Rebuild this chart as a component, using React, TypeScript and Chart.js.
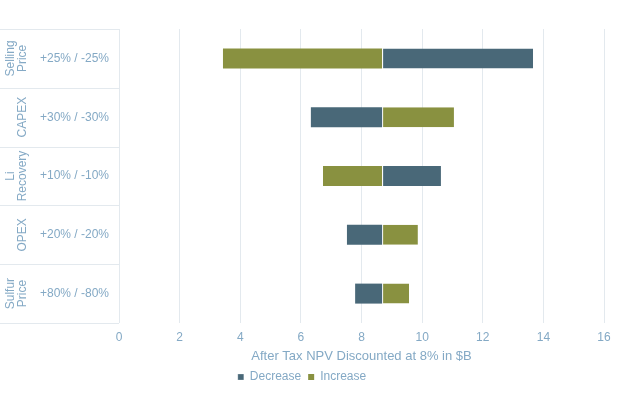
import React, { useEffect, useRef } from "react";
import { Chart, registerables } from "chart.js";

Chart.register(...registerables);

const outerLabels: string[][] = [["Selling", "Price"], ["CAPEX"], ["Li", "Recovery"], ["OPEX"], ["Sulfur", "Price"]];
const innerLabels: string[] = ["+25% / -25%", "+30% / -30%", "+10% / -10%", "+20% / -20%", "+80% / -80%"];
const baseValue = 8.68;
const decreaseEnds: number[] = [13.66, 6.33, 10.62, 7.52, 7.79];
const increaseEnds: number[] = [3.43, 11.05, 6.73, 9.86, 9.57];
const xTicks: number[] = [0, 2, 4, 6, 8, 10, 12, 14, 16];

const TEXT = "#84a9c5";
const GRID = "#e3e9ee";
const FONT = "'Liberation Sans', Arial, sans-serif";

const tablePlugin = {
  id: "labelTable",
  afterDraw(chart: any) {
    const ctx = chart.ctx;
    const y = chart.scales.y;
    const area = chart.chartArea;
    const n = innerLabels.length;
    const step = (y.getPixelForValue(1) - y.getPixelForValue(0));
    ctx.save();
    ctx.strokeStyle = GRID;
    ctx.lineWidth = 1;
    for (let i = 0; i <= n; i++) {
      const py = Math.round(y.getPixelForValue(i) - step / 2) + 0.5;
      ctx.beginPath();
      ctx.moveTo(0, py);
      ctx.lineTo(area.left, py);
      ctx.stroke();
    }
    ctx.fillStyle = TEXT;
    ctx.font = `12px ${FONT}`;
    ctx.textAlign = "center";
    ctx.textBaseline = "middle";
    const lineH = 12;
    const lastX = 23;
    outerLabels.forEach((lines, i) => {
      const cy = y.getPixelForValue(i);
      lines.forEach((line, j) => {
        const px = lastX - (lines.length - 1 - j) * lineH;
        ctx.save();
        ctx.translate(px, cy);
        ctx.rotate(-Math.PI / 2);
        ctx.fillText(line, 0, 0);
        ctx.restore();
      });
    });
    ctx.restore();
  },
};

export default function App() {
  const ref = useRef<HTMLCanvasElement | null>(null);
  useEffect(() => {
    if (!ref.current) return;
    const mk = (ends: number[]) => ends.map((e) => [baseValue, e]);
    const bw = (c: any) => {
      const v = c.raw as number[];
      if (!v) return 0;
      return v[1] > v[0] ? { left: 1, right: 0, top: 0, bottom: 0 } : 0;
    };
    const chart = new Chart(ref.current, {
      type: "bar",
      data: {
        labels: innerLabels,
        datasets: [
          {
            label: "Decrease",
            data: mk(decreaseEnds) as any,
            backgroundColor: "#496878",
            borderColor: "#ffffff",
            borderWidth: bw as any,
            borderSkipped: false,
            grouped: false,
            categoryPercentage: 1,
            barPercentage: 0.34,
          },
          {
            label: "Increase",
            data: mk(increaseEnds) as any,
            backgroundColor: "#899140",
            borderColor: "#ffffff",
            borderWidth: bw as any,
            borderSkipped: false,
            grouped: false,
            categoryPercentage: 1,
            barPercentage: 0.34,
          },
        ],
      },
      options: {
        indexAxis: "y",
        animation: false,
        responsive: false,
        maintainAspectRatio: false,
        layout: { padding: { top: 29, right: 20, left: 0, bottom: 2 } },
        scales: {
          x: {
            type: "linear",
            min: 0,
            max: 16,
            afterBuildTicks: (s: any) => {
              s.ticks = xTicks.map((v) => ({ value: v }));
            },
            grid: { color: GRID, drawTicks: false },
            border: { display: false },
            ticks: { color: TEXT, font: { size: 12, family: FONT }, padding: 7 },
            title: {
              display: true,
              text: "After Tax NPV Discounted at 8% in $B",
              color: TEXT,
              font: { size: 13, family: FONT },
              padding: { top: -3, bottom: 0 },
            },
          },
          y: {
            type: "category",
            offset: true,
            grid: { display: false, drawTicks: false },
            border: { display: false },
            ticks: { color: TEXT, font: { size: 12, family: FONT }, padding: 10 },
            afterFit: (s: any) => {
              s.width = 119;
            },
          },
        },
        plugins: {
          legend: {
            position: "bottom",
            labels: {
              color: TEXT,
              font: { size: 12, family: FONT },
              boxWidth: 6,
              boxHeight: 6,
              padding: 7,
            },
          },
          tooltip: { enabled: false },
        },
      },
      plugins: [tablePlugin],
    });
    return () => chart.destroy();
  }, []);
  return (
    <div style={{ position: "fixed", left: 0, top: 0, width: 624, height: 395, background: "#fff" }}>
      <canvas ref={ref} width={624} height={395} style={{ width: 624, height: 395, display: "block" }} />
    </div>
  );
}
